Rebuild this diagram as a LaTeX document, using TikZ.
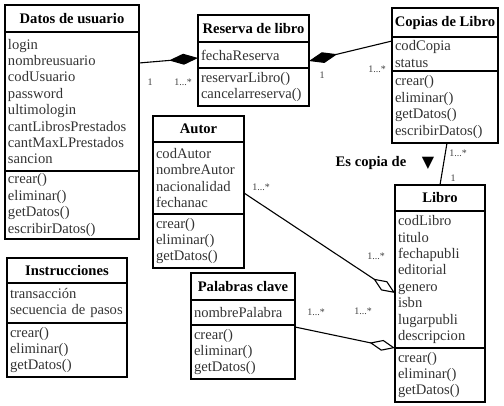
\documentclass[tikz,border=0pt]{standalone}
\usepackage{fontspec}
\setmainfont{Liberation Serif}
\newfontfamily\symfont{DejaVu Sans}
\usetikzlibrary{arrows.meta}
\tikzset{
  box/.style={draw, line width=1.3pt, anchor=north west, inner xsep=3pt, inner ysep=0pt, outer sep=0pt},
  ctitle/.style={box, inner xsep=1pt, align=center, font=\bfseries\fontsize{14.6}{16.4}\selectfont},
  cbody/.style={box, align=left, font=\fontsize{14.6}{16.4}\selectfont, text=black!80},
  mult/.style={font=\fontsize{10}{11}\selectfont, text=black!75, inner sep=0pt},
  conn/.style={line width=1.1pt},
  comp/.style={conn, -{Diamond[length=29pt, width=11pt]}},
  aggr/.style={conn, -{Diamond[open, fill=white, length=26pt, width=11pt]}},
  labtext/.style={font=\bfseries\fontsize{14.6}{16.4}\selectfont, inner sep=0pt},
}
\newcommand\umlclass[9]{%
  \node[ctitle, minimum width=#3pt, minimum height=#4pt] (#1-t) at (#2) {#7};
  \node[cbody, text width=#3pt-6pt, minimum height=#5pt] (#1-a) at (#1-t.south west) {#8};
  \node[cbody, text width=#3pt-6pt, minimum height=#6pt] (#1-m) at (#1-a.south west) {#9};
}
\begin{document}
\begin{tikzpicture}[x=1pt, y=-1pt]
\useasboundingbox (0,0) rectangle (504,406);
\umlclass{datos}{5,5}{134}{27}{139}{68}{Datos de usuario}
  {login\\nombreusuario\\codUsuario\\password\\ultimologin\\cantLibrosPrestados\\cantMaxLPrestados\\sancion}
  {crear()\\eliminar()\\getDatos()\\escribirDatos()}
\umlclass{reserva}{198,15}{111}{27}{26}{38}{Reserva de libro}
  {fechaReserva}
  {reservarLibro()\\cancelarreserva()}
\umlclass{copias}{392,8}{106}{29}{34}{72}{Copias de Libro}
  {codCopia\\status}
  {crear()\\eliminar()\\getDatos()\\escribirDatos()}
\umlclass{autor}{153,116}{91}{26}{72}{54}{Autor}
  {codAutor\\nombreAutor\\nacionalidad\\fechanac}
  {crear()\\eliminar()\\getDatos()}
\umlclass{libro}{395,185}{90}{26}{137}{54}{Libro}
  {codLibro\\titulo\\fechapubli\\editorial\\genero\\isbn\\lugarpubli\\descripcion}
  {crear()\\eliminar()\\getDatos()}
\umlclass{instr}{7,258}{120}{25}{40}{54}{Instrucciones}
  {transacción\\secuencia de pasos}
  {crear()\\eliminar()\\getDatos()}
\umlclass{palabras}{191,273}{104}{27}{25}{54}{Palabras clave}
  {nombrePalabra}
  {crear()\\eliminar()\\getDatos()}

\draw[comp] ([yshift=-31pt]datos-a.north east) -- ([yshift=-16pt]reserva-a.north west);
\draw[comp] ([yshift=-4pt]copias-a.north west) -- ([yshift=-19pt]reserva-a.north east);
\draw[conn] ([xshift=55pt]copias-m.south west) -- ([xshift=45pt]libro-t.north west);
\draw[aggr] ([yshift=-51pt]autor-a.north east) -- ([yshift=-82pt]libro-a.north west);
\draw[aggr] ([yshift=-2pt]palabras-m.north east) -- (libro-m.north west);

\node[mult] (m1) at (150,82) {1};
\node[mult] (m2) at (183,82) {1...*};
\node[mult] (m3) at (322,75) {1};
\node[mult] (m4) at (377,69) {1...*};
\node[mult] (m5) at (458,153) {1...*};
\node[mult] (m6) at (453,178) {1};
\node[mult] (m7) at (261,187) {1...*};
\node[mult] (m8) at (376,256) {1...*};
\node[mult] (m9) at (316,312) {1...*};
\node[mult] (m10) at (363,311) {1...*};

\node[labtext] (escopia) at (371,163) {Es copia de};
\node[inner sep=0pt, font=\symfont\fontsize{16}{17}\selectfont] (tri) at (428,163) {▼};
\end{tikzpicture}
\end{document}
